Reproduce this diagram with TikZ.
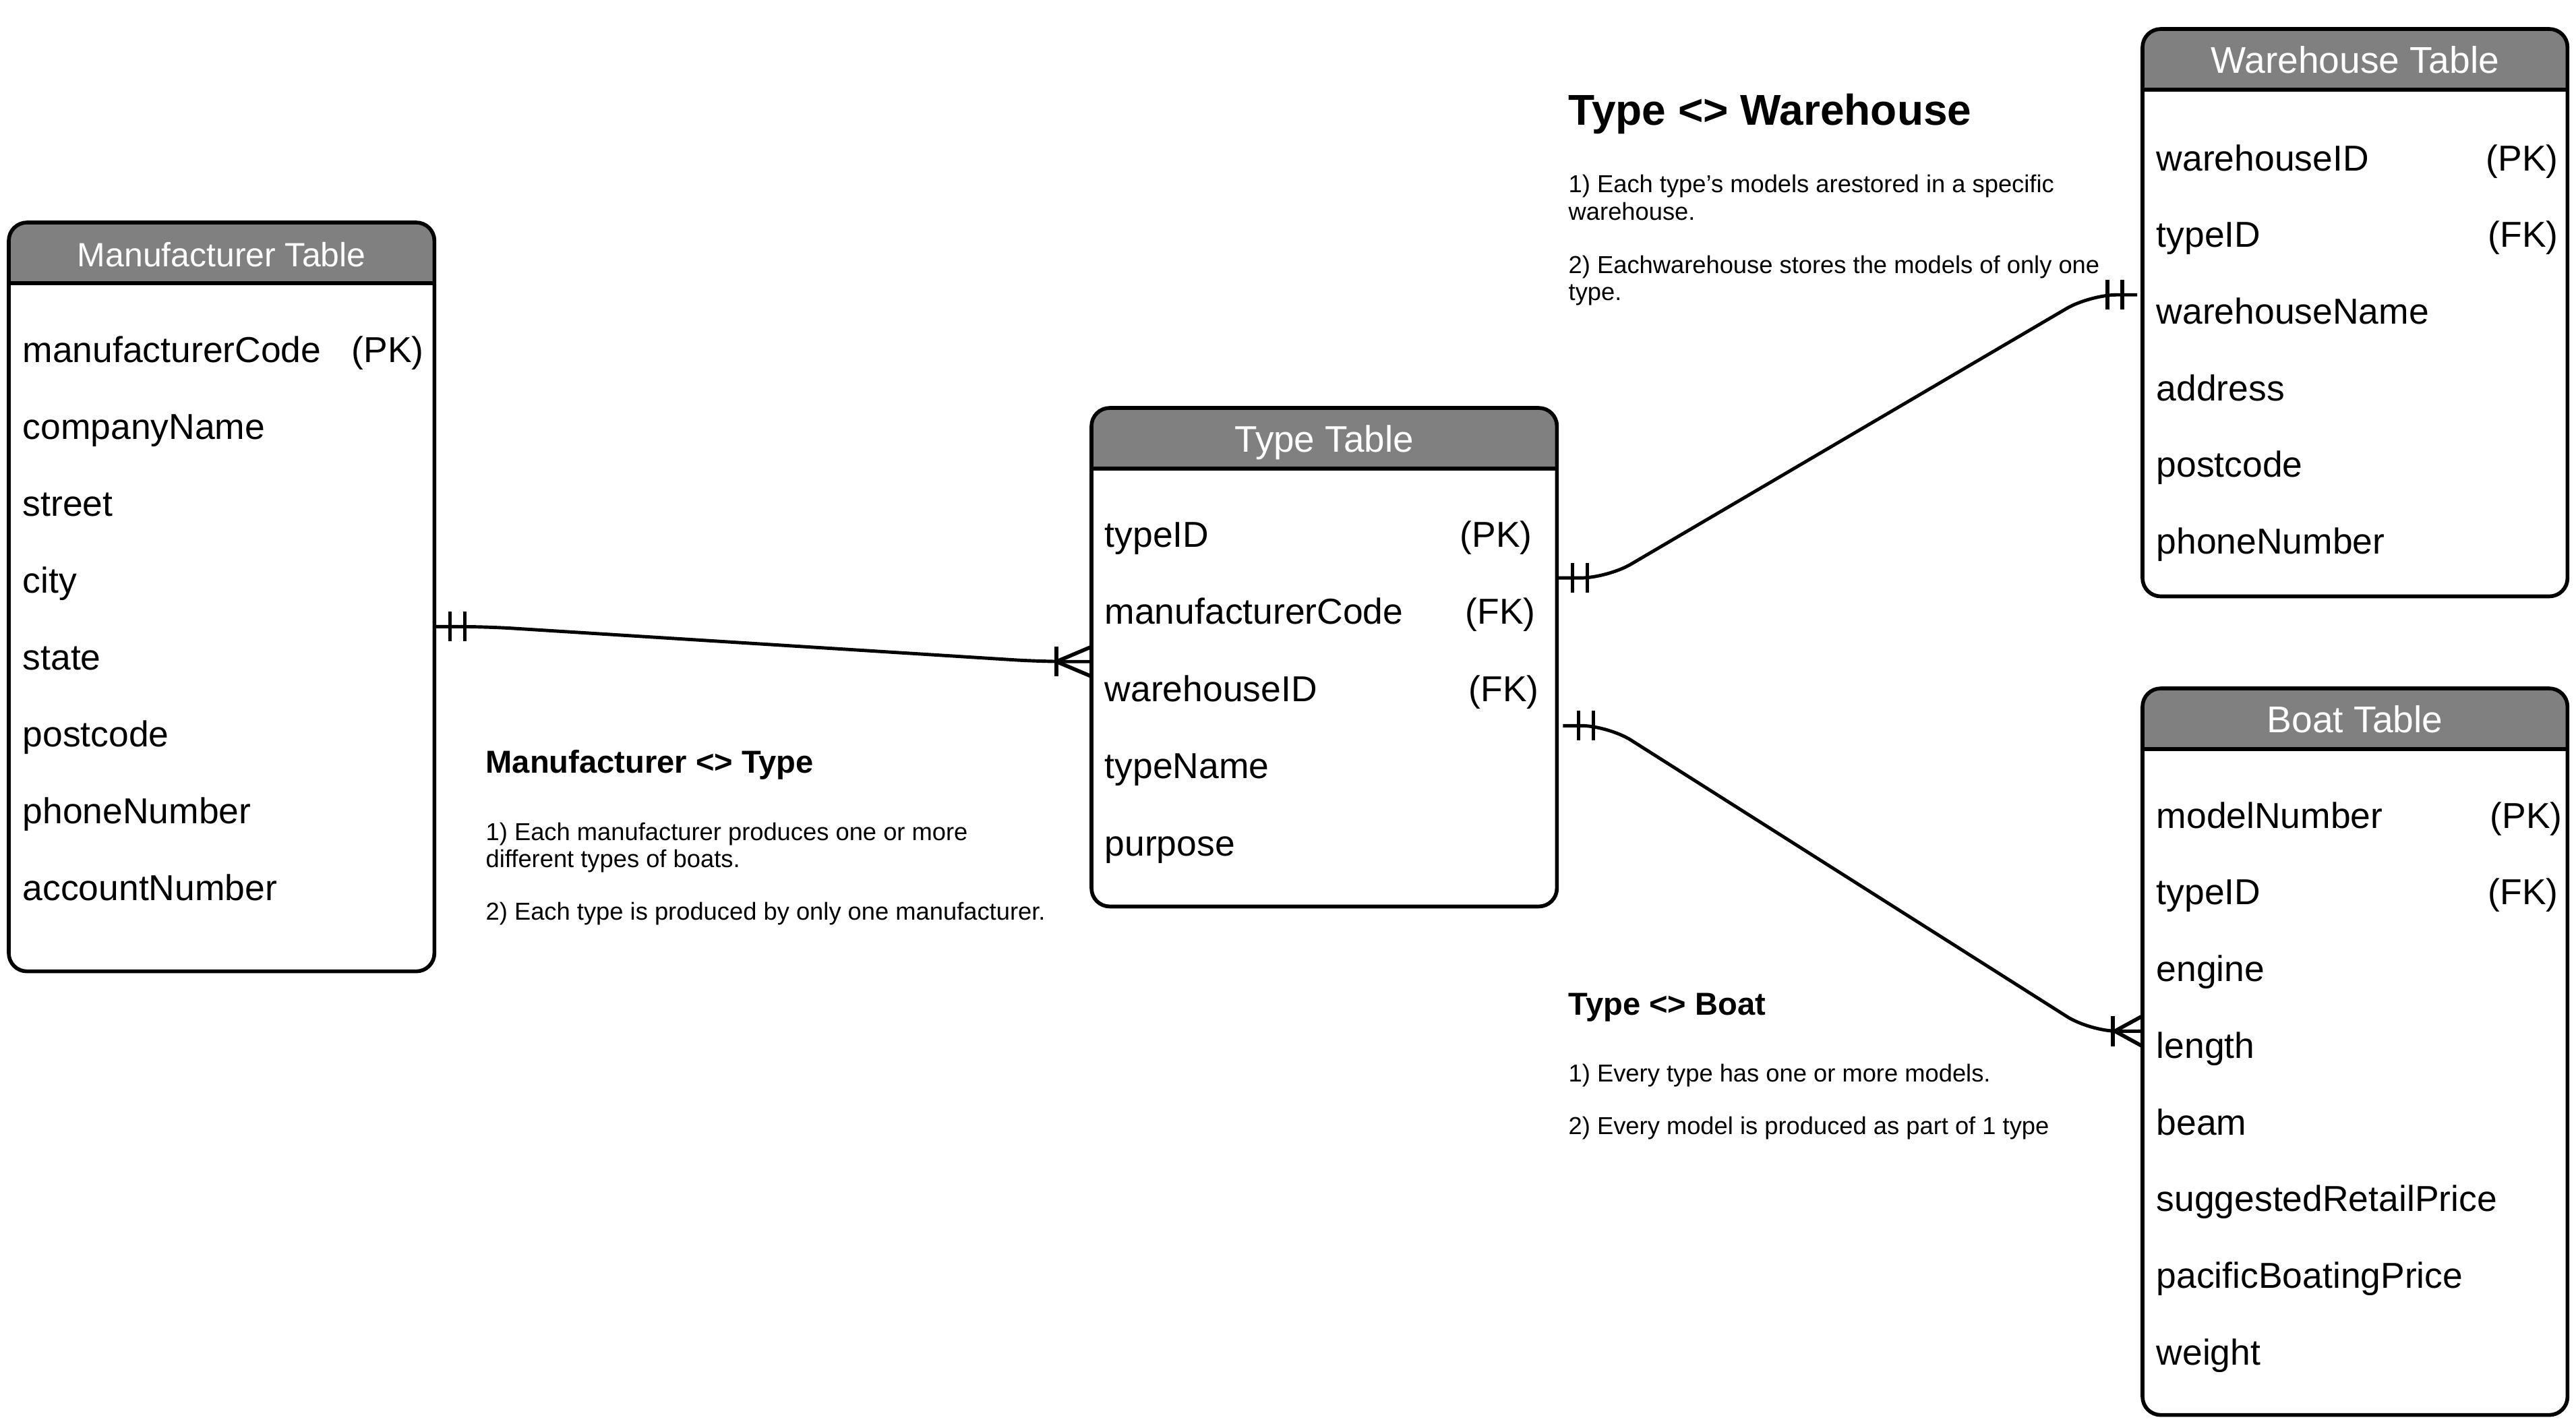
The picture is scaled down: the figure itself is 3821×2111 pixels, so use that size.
\documentclass[tikz,border=0pt]{standalone}
\usepackage{fontspec}
\setmainfont{Liberation Sans}
\definecolor{hdrgray}{RGB}{128,128,128}
\tikzset{
  tbl/.style={rectangle, inner sep=0pt, outer sep=0pt, anchor=north west},
  border/.style={line width=1.6pt, rounded corners=0.27cm},
  hdr/.style={text=white, anchor=base, inner sep=0pt},
  fld/.style={font=\fontsize{15.2}{18}\selectfont, anchor=base west, inner sep=0pt},
  keyf/.style={font=\fontsize{15.2}{18}\selectfont, anchor=base east, inner sep=0pt},
  rel/.style={line width=1.4pt, rounded corners=0.4cm},
  tickbar/.style={line width=1.6pt},
  bigttl/.style={font=\bfseries\fontsize{18.2}{22}\selectfont, anchor=base west, inner sep=0pt},
  ttl/.style={font=\bfseries\fontsize{13.4}{16}\selectfont, anchor=base west, inner sep=0pt},
  body/.style={font=\fontsize{10.33}{12.4}\selectfont, anchor=base west, inner sep=0pt}
}
\newcommand{\ertable}[7]{%
  \node[tbl, minimum width=#4cm, minimum height=#5cm] (#1) at (#2,#3) {};
  \begin{scope}
    \clip[rounded corners=0.27cm] (#1.north west) rectangle (#1.south east);
    \fill[hdrgray] (#1.north west) rectangle ([yshift=-0.9cm]#1.north east);
  \end{scope}
  \draw[border] (#1.north west) rectangle (#1.south east);
  \draw[line width=1.6pt] ([yshift=-0.9cm]#1.north west) -- ([yshift=-0.9cm]#1.north east);
  \node[hdr, font=\fontsize{#7}{18}\selectfont] (#1-title) at ([yshift=-0.655cm]#1.north) {#6};
}
\begin{document}
\begin{tikzpicture}[x=0.01cm, y=-0.01cm]
\useasboundingbox (0,0) rectangle (3821,2111);

% ---------- tables ----------
\ertable{man}{13}{330}{6.31}{11.10}{Manufacturer Table}{14.2}
\foreach \t [count=\i from 0] in {manufacturerCode, companyName, street, city, state, postcode, phoneNumber, accountNumber}
  \node[fld] (man-f\i) at ([xshift=0.2cm, yshift={-2.07cm-\i*1.14cm}]man.north west) {\t};
\node[keyf] (man-k0) at ([xshift=-0.15cm, yshift=-2.07cm]man.north east) {(PK)};

\ertable{type}{1619}{605}{6.90}{7.39}{Type Table}{15.6}
\foreach \t [count=\i from 0] in {typeID, manufacturerCode, warehouseID, typeName, purpose}
  \node[fld] (type-f\i) at ([xshift=0.19cm, yshift={-2.06cm-\i*1.145cm}]type.north west) {\t};
\node[keyf] (type-k0) at ([xshift=-0.36cm, yshift=-2.06cm]type.north east) {(PK)};
\node[keyf] (type-k1) at ([xshift=-0.31cm, yshift=-3.205cm]type.north east) {(FK)};
\node[keyf] (type-k2) at ([xshift=-0.26cm, yshift=-4.35cm]type.north east) {(FK)};

\ertable{wh}{3178}{43}{6.30}{8.41}{Warehouse Table}{15.7}
\foreach \t [count=\i from 0] in {warehouseID, typeID, warehouseName, address, postcode, phoneNumber}
  \node[fld] (wh-f\i) at ([xshift=0.2cm, yshift={-2.10cm-\i*1.136cm}]wh.north west) {\t};
\node[keyf] (wh-k0) at ([xshift=-0.13cm, yshift=-2.10cm]wh.north east) {(PK)};
\node[keyf] (wh-k1) at ([xshift=-0.13cm, yshift=-3.236cm]wh.north east) {(FK)};

\ertable{boat}{3178}{1021}{6.30}{10.77}{Boat Table}{15.7}
\foreach \t [count=\i from 0] in {modelNumber, typeID, engine, length, beam, suggestedRetailPrice, pacificBoatingPrice, weight}
  \node[fld] (boat-f\i) at ([xshift=0.2cm, yshift={-2.07cm-\i*1.137cm}]boat.north west) {\t};
\node[keyf] (boat-k0) at ([xshift=-0.07cm, yshift=-2.07cm]boat.north east) {(PK)};
\node[keyf] (boat-k1) at ([xshift=-0.13cm, yshift=-3.207cm]boat.north east) {(FK)};

% ---------- connectors ----------
% Manufacturer -> Type
\coordinate (c1s) at ([yshift=-5.99cm]man.north east);
\coordinate (c1e) at ([yshift=-3.76cm]type.north west);
\draw[rel] (c1s) -- ([xshift=0.76cm]c1s) -- ([xshift=-0.75cm]c1e) -- (c1e);
\draw[tickbar] ([xshift=0.23cm, yshift=0.22cm]c1s) -- ([xshift=0.23cm, yshift=-0.22cm]c1s);
\draw[tickbar] ([xshift=0.45cm, yshift=0.22cm]c1s) -- ([xshift=0.45cm, yshift=-0.22cm]c1s);
\draw[tickbar] ([xshift=-0.52cm, yshift=0.22cm]c1e) -- ([xshift=-0.52cm, yshift=-0.22cm]c1e);
\draw[tickbar] ([yshift=0.22cm]c1e) -- ([xshift=-0.52cm]c1e) -- ([yshift=-0.22cm]c1e);

% Type -> Warehouse
\coordinate (c2s) at ([yshift=-2.52cm]type.north east);
\coordinate (c2e) at ([xshift=-0.08cm, yshift=-3.94cm]wh.north west);
\draw[rel] (c2s) -- ([xshift=0.75cm]c2s) -- ([xshift=-0.70cm]c2e) -- (c2e);
\draw[tickbar] ([xshift=0.23cm, yshift=0.22cm]c2s) -- ([xshift=0.23cm, yshift=-0.22cm]c2s);
\draw[tickbar] ([xshift=0.45cm, yshift=0.22cm]c2s) -- ([xshift=0.45cm, yshift=-0.22cm]c2s);
\draw[tickbar] ([xshift=-0.44cm, yshift=0.22cm]c2e) -- ([xshift=-0.44cm, yshift=-0.22cm]c2e);
\draw[tickbar] ([xshift=-0.22cm, yshift=0.22cm]c2e) -- ([xshift=-0.22cm, yshift=-0.22cm]c2e);

% Type -> Boat
\coordinate (c3s) at ([xshift=0.09cm, yshift=-4.71cm]type.north east);
\coordinate (c3e) at ([yshift=-5.08cm]boat.north west);
\draw[rel] (c3s) -- ([xshift=0.67cm]c3s) -- ([xshift=-0.78cm]c3e) -- (c3e);
\draw[tickbar] ([xshift=0.23cm, yshift=0.22cm]c3s) -- ([xshift=0.23cm, yshift=-0.22cm]c3s);
\draw[tickbar] ([xshift=0.45cm, yshift=0.22cm]c3s) -- ([xshift=0.45cm, yshift=-0.22cm]c3s);
\draw[tickbar] ([xshift=-0.44cm, yshift=0.225cm]c3e) -- ([xshift=-0.44cm, yshift=-0.225cm]c3e);
\draw[tickbar] ([yshift=0.225cm]c3e) -- ([xshift=-0.41cm]c3e) -- ([yshift=-0.225cm]c3e);

% ---------- relationship notes ----------
\node[bigttl] (tw-t) at (2326,185) {Type <> Warehouse};
\node[body] (tw-1a) at (2326,285) {1) Each type’s models arestored in a specific};
\node[body] (tw-1b) at (2326,326) {warehouse.};
\node[body] (tw-2a) at (2326,405) {2) Eachwarehouse stores the models of only one};
\node[body] (tw-2b) at (2326,445) {type.};

\node[ttl] (mt-t) at (720,1146) {Manufacturer <> Type};
\node[body] (mt-1a) at (720,1246) {1) Each manufacturer produces one or more};
\node[body] (mt-1b) at (720,1286) {different types of boats.};
\node[body] (mt-2a) at (720,1364) {2) Each type is produced by only one manufacturer.};

\node[ttl] (tb-t) at (2326,1505) {Type <> Boat};
\node[body] (tb-1) at (2326,1604) {1) Every type has one or more models.};
\node[body] (tb-2) at (2326,1682) {2) Every model is produced as part of 1 type};
\end{tikzpicture}
\end{document}
